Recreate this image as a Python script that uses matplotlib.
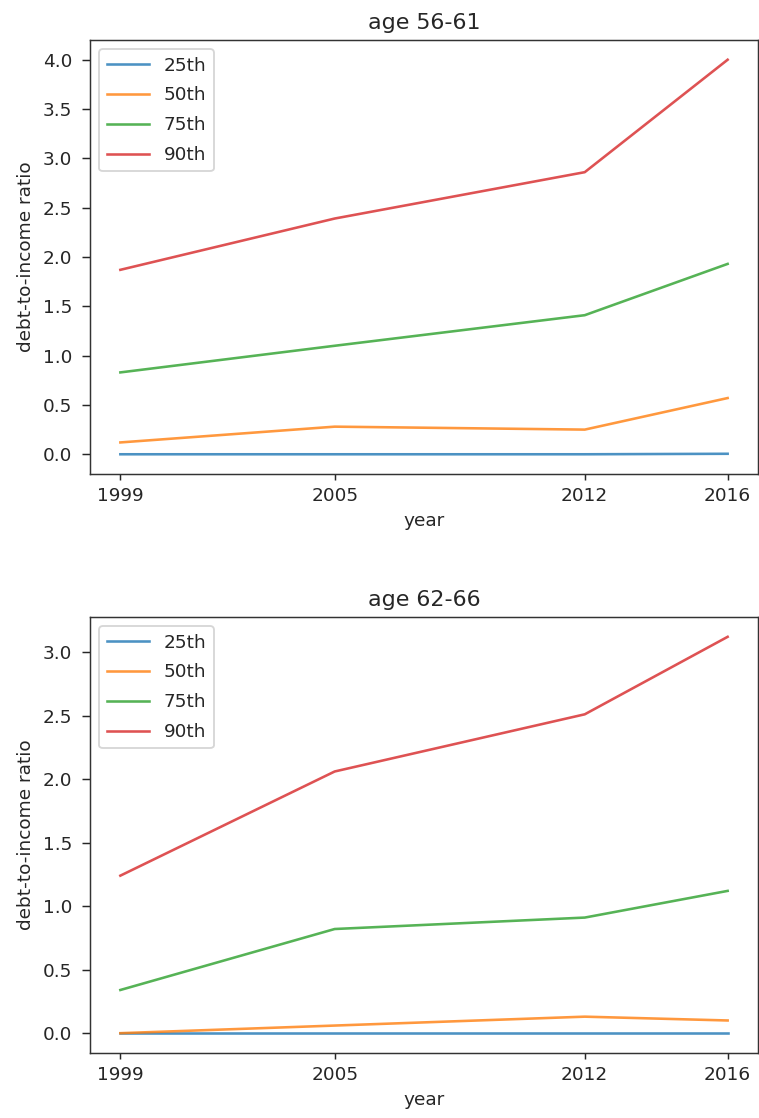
import matplotlib
matplotlib.use("Agg")
import matplotlib.pyplot as plt

years = [1999, 2005, 2012, 2016]
labels = ["25th", "50th", "75th", "90th"]
titles = ["age 56-61", "age 62-66"]

age1_25 = [0.0, 0.0, 0.0, 0.005]
age1_50 = [0.12, 0.28, 0.25, 0.57]
age1_75 = [0.83, 1.10, 1.41, 1.93]
age1_90 = [1.87, 2.39, 2.86, 4.00]

age2_25 = [0.0, 0.0, 0.0, 0.0]
age2_50 = [0.0, 0.06, 0.13, 0.10]
age2_75 = [0.34, 0.82, 0.91, 1.12]
age2_90 = [1.24, 2.06, 2.51, 3.12]

panels = [[age1_25, age1_50, age1_75, age1_90],
          [age2_25, age2_50, age2_75, age2_90]]

plt.rcParams["text.color"] = "#262626"
plt.rcParams["axes.labelcolor"] = "#262626"
plt.rcParams["xtick.color"] = "#262626"
plt.rcParams["ytick.color"] = "#262626"
plt.rcParams["ytick.major.pad"] = 5.5
plt.rcParams["ytick.major.size"] = 4.2
DPI = 133

W, H = 759, 1118
fig = plt.figure(figsize=(W / DPI, H / DPI), dpi=DPI)
boxes = [(90, 40, 758, 474), (90, 617, 758, 1053)]
colors = ["tab:blue", "tab:orange", "tab:green", "tab:red"]

for (x0, y0, x1, y1), series, title in zip(boxes, panels, titles):
    ax = fig.add_axes([x0 / W, 1 - y1 / H, (x1 - x0) / W, (y1 - y0) / H])
    for vals, lab, c in zip(series, labels, colors):
        ax.plot(years, vals, label=lab, color=c, alpha=0.8, linewidth=1.4)
    for s in ax.spines.values():
        s.set_color("#333333")
    ax.set_xticks(years)
    ax.set_title(title)
    ax.set_xlabel("year")
    ax.set_ylabel("debt-to-income ratio")
    ax.legend(loc="upper left", labelspacing=0.64, handlelength=2.3)

fig.savefig("out.png", dpi=DPI)
